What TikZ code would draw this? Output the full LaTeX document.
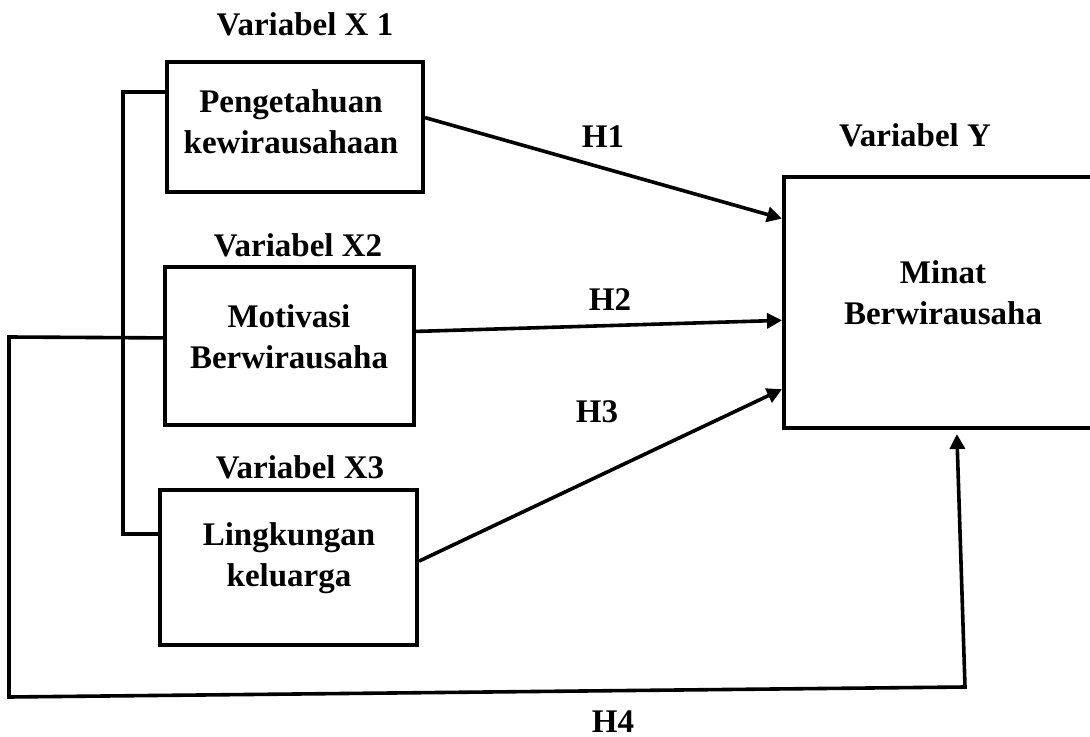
\documentclass[tikz,border=0pt]{standalone}
\usepackage{fontspec}
\setmainfont{Liberation Serif}
\usetikzlibrary{positioning,calc,arrows.meta}

\begin{document}
\begin{tikzpicture}[x=0.5pt,y=-0.5pt,
  varbox/.style={draw,line width=2pt,inner sep=0pt},
  boxtext/.style={align=center,inner sep=0pt,font=\fontsize{16.5}{20.5}\selectfont\bfseries},
  head/.style={inner sep=0pt,font=\fontsize{16.5}{20}\selectfont\bfseries},
  link/.style={line width=1.8pt},
  hyp/.style={line width=1.8pt,-{Triangle[length=7.5pt,width=7.5pt]}}]
%
\useasboundingbox (0,0) rectangle (1090,737);
%
\node[varbox,minimum width=128pt,minimum height=65pt] (x1) at (295,127) {};
\node[varbox,minimum width=124.5pt,minimum height=79pt] (x2) at (289.5,346) {};
\node[varbox,minimum width=128.5pt,minimum height=77.5pt] (x3) at (288.5,567.5) {};
\node[varbox,minimum width=154pt,minimum height=125.5pt] (yb) at (938,302.5) {};
%
\node[boxtext] (x1t) at (291,122) {Pengetahuan\\kewirausahaan};
\node[boxtext] (x2t) at (289,337) {Motivasi\\Berwirausaha};
\node[boxtext] (x3t) at (289,558) {Lingkungan\\keluarga};
\node[boxtext] (ybt) at (943,293) {Minat\\Berwirausaha};
%
\node[head] (x1h) at (305,24) {Variabel X 1};
\node[head] (x2h) at (298,245) {Variabel X2};
\node[head] (x3h) at (300,467) {Variabel X3};
\node[head] (ybh) at (915,135) {Variabel Y};
%
\node[head] (h1) at (603,137) {H1};
\node[head] (h2) at (610,300) {H2};
\node[head] (h3) at (597,412) {H3};
\node[head] (h4) at (613,722) {H4};
%
\coordinate (bk) at (123,300);
\coordinate (lt) at (9,337);
\coordinate (lb) at (9,697);
\coordinate (rb) at (965,687);
%
\draw[link] ($(x1.north west)!0.24!(x1.south west)$) -| (bk) |- ($(x3.north west)!0.29!(x3.south west)$);
\draw[hyp] ($(x1.north east)!0.43!(x1.south east)$) -- ($(yb.north west)!0.171!(yb.south west)$);
\draw[hyp] ($(x2.north east)!0.41!(x2.south east)$) -- ($(yb.north west)!0.57!(yb.south west)$);
\draw[hyp] ($(x3.north east)!0.46!(x3.south east)$) -- ($(yb.north west)!0.84!(yb.south west)$);
\draw[hyp,shorten >=2pt] ($(x2.north west)!0.45!(x2.south west)$) -- (lt) -- (lb) -- (rb) -- ($(yb.south west)!0.56!(yb.south east)$);
\end{tikzpicture}
\end{document}
